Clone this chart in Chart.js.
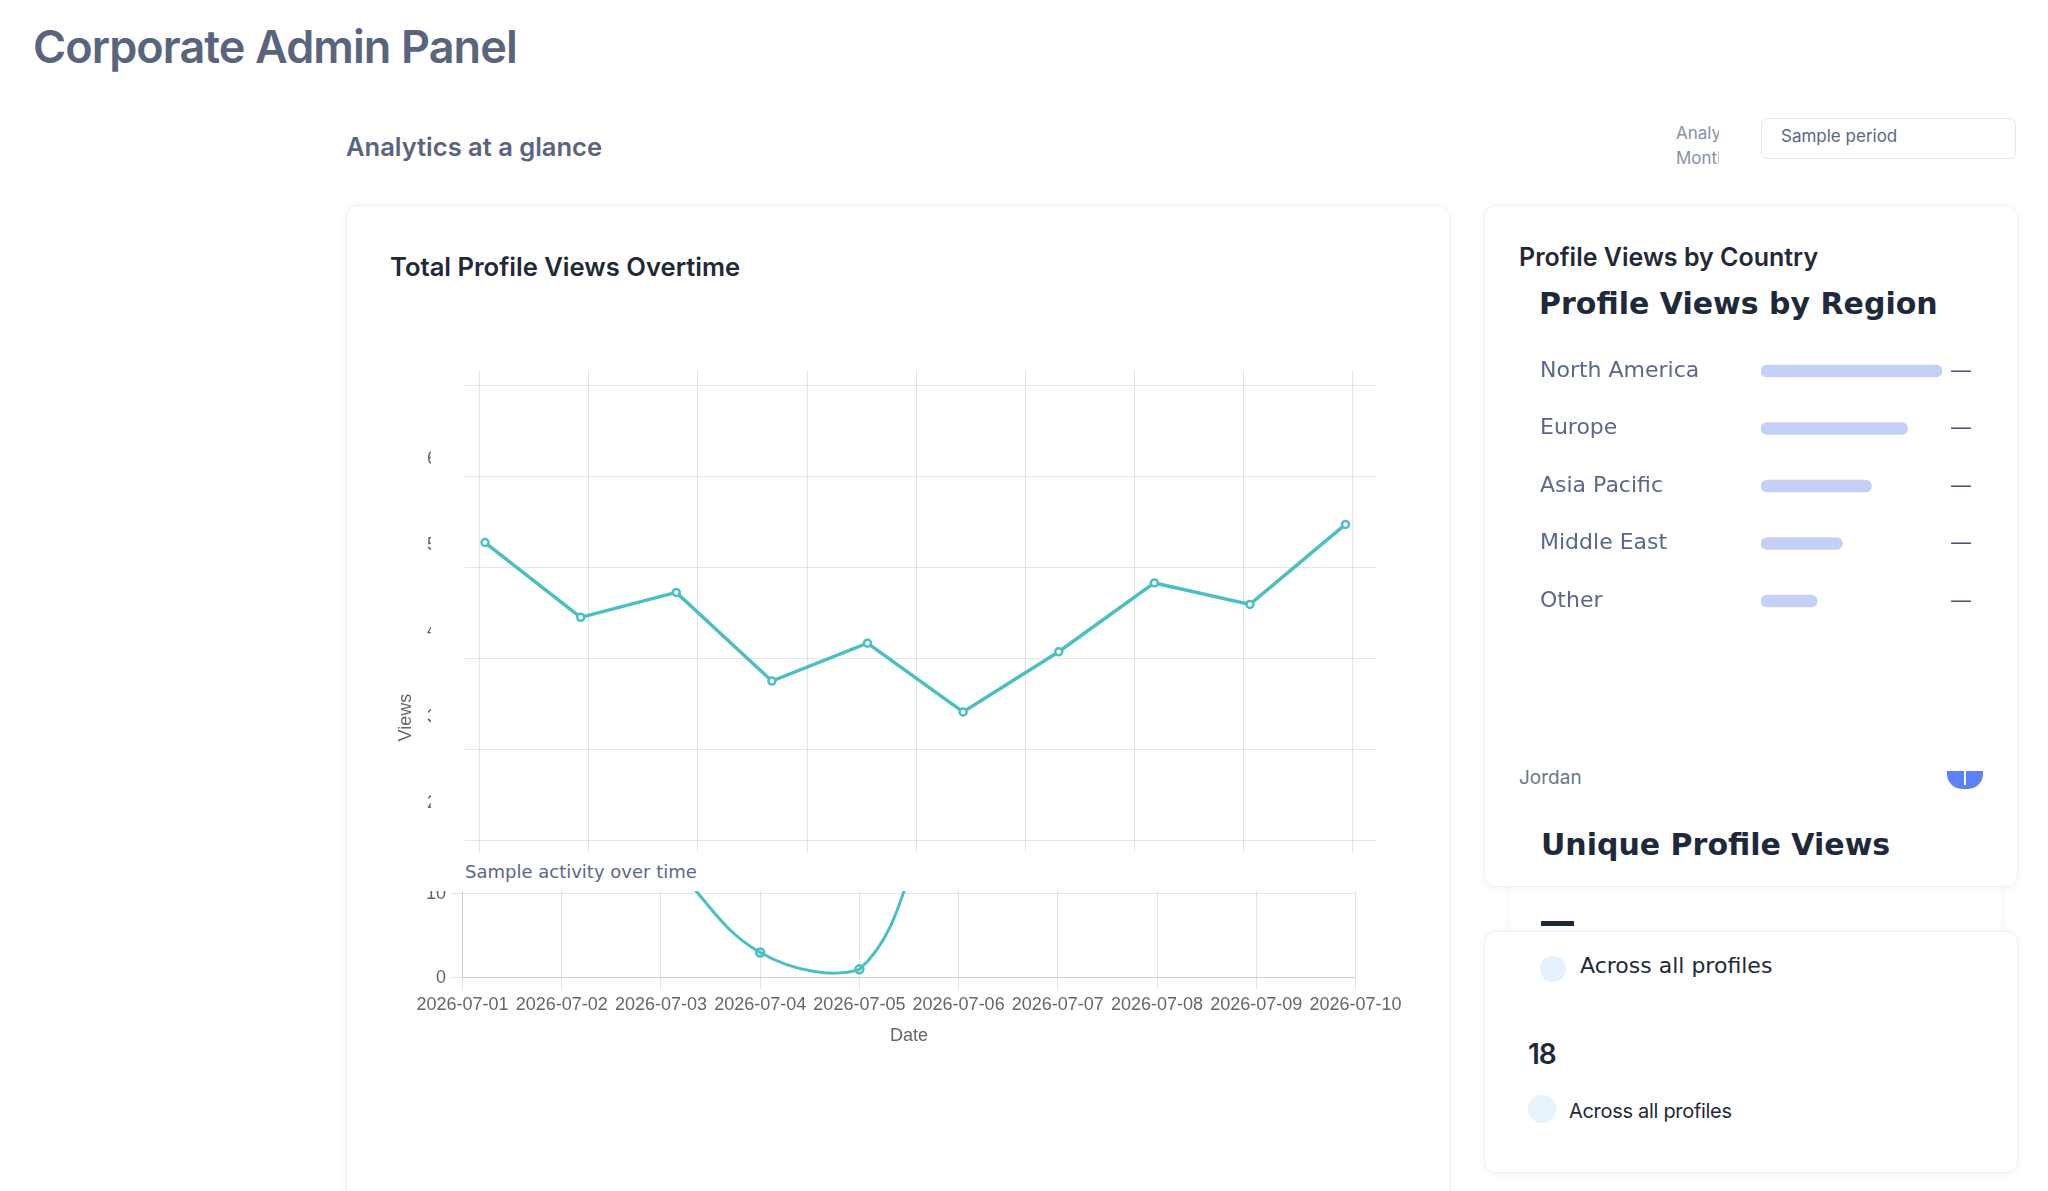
<!DOCTYPE html>
<html>
<head>
<meta charset="utf-8">
<title>Corporate Admin Panel</title>
<script src="https://cdn.jsdelivr.net/npm/chart.js@4.4.1/dist/chart.umd.min.js"></script>
<style>
  html, body { margin: 0; padding: 0; }
  body {
    width: 2048px; height: 1191px; overflow: hidden; position: relative;
    background: #fff; font-family: Inter, "Noto Sans", sans-serif;
  }
  .abs { position: absolute; }
  .card {
    position: absolute; z-index: 1; background: #fff;
    border: 1px solid #f0f1f4; border-radius: 12px;
    box-shadow: 0 1px 8px rgba(15, 23, 42, 0.05);
  }
  .txt { position: absolute; z-index: 5; line-height: 1; white-space: nowrap; }
  .dv { font-family: "DejaVu Sans", sans-serif; }
  canvas { position: absolute; z-index: 3; }
</style>
</head>
<body>

<div class="txt" style="left:33px;top:24px;font-size:45px;font-weight:600;letter-spacing:-0.9px;color:#59647f">Corporate Admin Panel</div>
<div class="txt" style="left:346px;top:134px;font-size:25.5px;font-weight:600;color:#59647f">Analytics at a glance</div>

<div class="txt" style="left:1676px;top:121px;width:43px;overflow:hidden;font-size:17px;line-height:25px;color:#8792a6">Analytics<br>Month</div>
<div class="abs" style="left:1761px;top:118px;width:253px;height:39px;border:1px solid #e6e8ec;border-radius:6px"></div>
<div class="txt" style="left:1781px;top:128px;font-size:17px;color:#5b6887">Sample period</div>

<!-- main card -->
<div class="card" style="left:346px;top:205px;width:1102px;height:1000px"></div>
<div class="txt" style="left:390px;top:254px;font-size:25.6px;font-weight:600;color:#1f2937">Total Profile Views Overtime</div>
<canvas id="viewsChart" width="988" height="496" style="left:395px;top:357px;width:988px;height:496px"></canvas>
<div class="abs" style="left:431px;top:430px;width:33px;height:400px;background:#fff;z-index:4"></div>
<div class="txt dv" style="left:465px;top:863px;font-size:18px;color:#5b6887">Sample activity over time</div>
<div class="abs" style="left:346px;top:891px;width:1100px;height:200px;overflow:hidden;z-index:3">
  <canvas id="activityChart" width="994" height="346" style="left:66px;top:-186px;width:994px;height:346px"></canvas>
</div>

<!-- right column -->
<div class="card" style="left:1484px;top:205px;width:532px;height:680px"></div>
<div class="abs" style="left:1510px;top:870px;width:491px;height:62px;background:#fff;z-index:0;box-shadow:0 2px 8px rgba(15,23,42,0.06)"></div>
<div class="card" style="left:1484px;top:931px;width:532px;height:240px"></div>

<div class="txt" style="left:1519px;top:245px;font-size:25px;font-weight:600;color:#1f2937">Profile Views by Country</div>
<div class="txt dv" style="left:1539px;top:289px;font-size:30px;font-weight:bold;color:#1e293b">Profile Views by Region</div>
<canvas id="regionChart" width="442" height="330" style="left:1540px;top:321px;width:442px;height:330px"></canvas>

<div class="txt" style="left:1519px;top:768px;font-size:19px;color:#6b7789">Jordan</div>
<div class="abs" style="left:1947px;top:771px;width:36px;height:18px;background:#5b82f6;border-radius:0 0 15px 15px;z-index:5">
  <div class="abs" style="left:17px;top:0;width:2px;height:14px;background:#fff"></div>
</div>
<div class="txt dv" style="left:1541px;top:830px;font-size:30px;font-weight:bold;color:#1e293b">Unique Profile Views</div>
<div class="abs" style="left:1541px;top:921px;width:33px;height:5px;background:#1e293b;z-index:5"></div>
<div class="abs" style="left:1540px;top:956px;width:26px;height:26px;border-radius:50%;background:#e3f2fd;z-index:5"></div>
<div class="txt dv" style="left:1580px;top:955px;font-size:22px;color:#1f2937">Across all profiles</div>
<div class="txt" style="left:1528px;top:1040px;font-size:28px;font-weight:600;letter-spacing:-1px;color:#1e293b">18</div>
<div class="abs" style="left:1528px;top:1095px;width:28px;height:28px;border-radius:50%;background:#e6f3fd;z-index:5"></div>
<div class="txt" style="left:1569px;top:1101px;font-size:20px;letter-spacing:-0.3px;color:#1f2937">Across all profiles</div>

<script>
// dates shared by both line charts
const days = ['2026-07-01', '2026-07-02', '2026-07-03', '2026-07-04', '2026-07-05',
              '2026-07-06', '2026-07-07', '2026-07-08', '2026-07-09', '2026-07-10'];
// total profile views (upper chart)
const totalViews = [5.03, 4.16, 4.45, 3.42, 3.86, 3.06, 3.76, 4.56, 4.31, 5.24];
const viewTicks = [2, 3, 4, 5, 6];
// background grid of the upper chart
const gridRows = [0, 1, 2, 3, 4, 5];
const gridCols = [0, 1, 2, 3, 4, 5, 6, 7, 8];
// sample activity (lower chart, mostly hidden)
const activityViews = [16, 22, 14.5, 3, 1, 24, 26, 18, 26, 21];
const activityTicks = [0, 10, 20, 30];
// profile views by region (share of the top region)
const regions = ['North America', 'Europe', 'Asia Pacific', 'Middle East', 'Other'];
const regionShare = [100, 81, 61, 45, 31];

const teal = 'rgb(75, 192, 192)';
const useTicks = list => scale => { scale.ticks = list.map(v => ({ value: v })); };

Chart.defaults.font.size = 18;
Chart.defaults.color = '#666';
Chart.defaults.animation = false;

new Chart(document.getElementById('viewsChart'), {
  type: 'line',
  data: {
    datasets: [{
      label: 'Views',
      data: totalViews.map((v, i) => ({ x: i, y: v })),
      xAxisID: 'x',
      yAxisID: 'y',
      borderColor: teal,
      backgroundColor: '#fff',
      borderWidth: 3.5,
      pointRadius: 3.5,
      pointBorderWidth: 2.5,
      pointBackgroundColor: '#fff',
      tension: 0
    }]
  },
  options: {
    responsive: false,
    animation: false,
    layout: { padding: { top: 13, left: 0, right: 0, bottom: 0 } },
    plugins: { legend: { display: false }, tooltip: { enabled: false } },
    scales: {
      x: { type: 'linear', display: false, min: -0.084, max: 9.324, bounds: 'data' },
      xg: {
        type: 'linear', position: 'bottom', min: -0.025, max: 8.22, bounds: 'data',
        afterBuildTicks: useTicks(gridCols),
        ticks: { display: false },
        grid: { tickLength: 12 },
        border: { display: false }
      },
      y: {
        type: 'linear', position: 'left', weight: 1, min: 1.57, max: 7.035, bounds: 'data',
        afterBuildTicks: useTicks(viewTicks),
        ticks: { padding: 2 },
        grid: { display: false, drawTicks: false },
        border: { display: false },
        // trailing spaces push the centred title down the axis, as in the panel
        title: { display: true, text: 'Views' + ' '.repeat(45), padding: { top: 0, bottom: 10 } },
        afterFit: s => { s.width = 44; }
      },
      yg: {
        type: 'linear', position: 'left', weight: 0, min: 0, max: 5.165, bounds: 'data',
        afterBuildTicks: useTicks(gridRows),
        ticks: { display: false },
        grid: { tickLength: 12 },
        border: { display: false },
        afterFit: s => { s.width = 38; }
      }
    }
  }
});

new Chart(document.getElementById('activityChart'), {
  type: 'line',
  data: {
    labels: days,
    datasets: [{
      label: 'Sample activity',
      data: activityViews,
      borderColor: teal,
      borderWidth: 3,
      tension: 0.4,
      pointRadius: 4,
      pointBorderWidth: 2.5,
      pointBackgroundColor: 'rgba(75, 192, 192, 0.2)'
    }]
  },
  options: {
    responsive: false,
    animation: false,
    layout: { padding: { top: 20, left: 10, right: 50, bottom: 0 } },
    plugins: { legend: { display: false }, tooltip: { enabled: false } },
    scales: {
      x: {
        ticks: { maxRotation: 0, autoSkip: false, padding: 4.5 },
        grid: { tickLength: 12 },
        title: { display: true, text: 'Date', padding: { top: 5, bottom: 4 } }
      },
      y: {
        min: 0, max: 30,
        afterBuildTicks: useTicks(activityTicks),
        ticks: { padding: 4.5 },
        grid: { tickLength: 12 },
        afterFit: s => { s.width = 40; }
      }
    }
  }
});

new Chart(document.getElementById('regionChart'), {
  type: 'bar',
  data: {
    labels: regions,
    datasets: [{
      label: 'Share',
      data: regionShare,
      backgroundColor: '#c5d0f6',
      barThickness: 12,
      borderRadius: 6,
      borderSkipped: false
    }]
  },
  options: {
    indexAxis: 'y',
    responsive: false,
    animation: false,
    layout: { padding: { top: 20, bottom: 20, left: 0, right: 0 } },
    plugins: { legend: { display: false }, tooltip: { enabled: false } },
    scales: {
      x: { display: false, min: 0, max: 100 },
      y: {
        ticks: { crossAlign: 'far', color: '#5b6887', font: { family: 'DejaVu Sans', size: 22 } },
        grid: { display: false, drawTicks: false },
        border: { display: false },
        afterFit: s => { s.width = 221; }
      },
      y2: {
        type: 'category', position: 'right', offset: true,
        ticks: { callback: () => '\u2014', color: '#475569', padding: 8, font: { family: 'DejaVu Sans', size: 22 } },
        grid: { display: false, drawTicks: false },
        border: { display: false },
        afterFit: s => { s.width = 40; }
      }
    }
  }
});
</script>
</body>
</html>
